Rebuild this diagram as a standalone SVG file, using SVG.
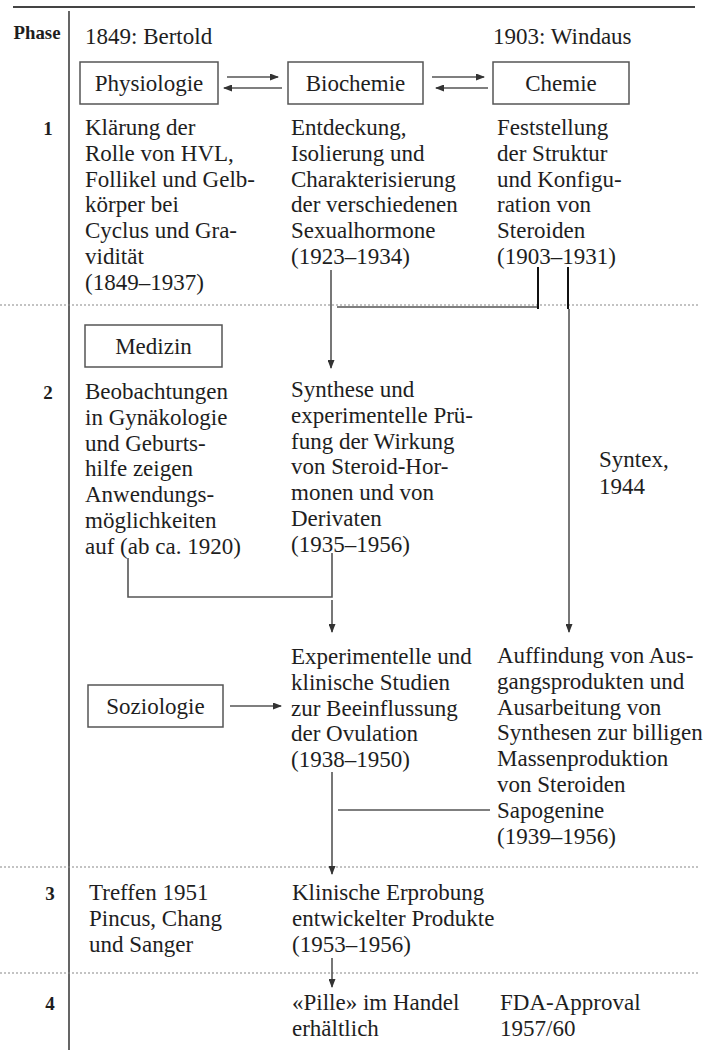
<svg xmlns="http://www.w3.org/2000/svg" width="718" height="1053" viewBox="0 0 718 1053">
<style>
.t{font-family:"Liberation Serif","Times New Roman",serif;font-size:23px;fill:#1e1e1e}
.c{text-anchor:middle}
.ph{font-family:"Liberation Serif","Times New Roman",serif;font-weight:bold;font-size:19px;fill:#1e1e1e;text-anchor:middle}
.box{fill:none;stroke:#555;stroke-width:1.5}
.ln{stroke:#555;stroke-width:1.6;fill:none}
.dk{stroke:#111;stroke-width:2;fill:none}
.dot{stroke:#888;stroke-width:1.2;stroke-dasharray:2 2;fill:none}
</style>
<defs>
<marker id="ah" markerWidth="9" markerHeight="7" refX="8" refY="3.5" orient="auto" markerUnits="userSpaceOnUse"><path d="M0,0 L9,3.5 L0,7 z" fill="#333"/></marker>
</defs>
<rect width="718" height="1053" fill="#fff"/>

<g id="frame">
<line x1="13" y1="7" x2="695" y2="7" stroke="#444" stroke-width="2"/>
<line x1="69" y1="11" x2="69" y2="1050" stroke="#555" stroke-width="1.8"/>
<line class="dot" x1="0" y1="305" x2="700" y2="305"/>
<line class="dot" x1="0" y1="867" x2="700" y2="867"/>
<line class="dot" x1="0" y1="973" x2="700" y2="973"/>
<text x="37" y="39" class="ph" font-size="15" textLength="47" lengthAdjust="spacingAndGlyphs">Phase</text>
<text x="48" y="135" class="ph">1</text>
<text x="48" y="399" class="ph">2</text>
<text x="50" y="900" class="ph">3</text>
<text x="50" y="1010" class="ph">4</text>
</g>

<g id="headers">
<text x="85" y="44" class="t">1849: Bertold</text>
<text x="493" y="44" class="t">1903: Windaus</text>
</g>

<g id="physiologie">
<rect class="box" x="80" y="62" width="138" height="42"/>
<text x="149" y="90.5" class="t c">Physiologie</text>
</g>
<g id="biochemie">
<rect class="box" x="288" y="62" width="135" height="42"/>
<text x="355.5" y="90.5" class="t c">Biochemie</text>
</g>
<g id="chemie">
<rect class="box" x="493" y="62" width="136" height="42"/>
<text x="561" y="90.5" class="t c">Chemie</text>
</g>

<g id="klaerung" class="t">
<text x="85" y="135">Klärung der</text>
<text x="85" y="160.8">Rolle von HVL,</text>
<text x="85" y="186.6">Follikel und Gelb-</text>
<text x="85" y="212.4">körper bei</text>
<text x="85" y="238.2">Cyclus und Gra-</text>
<text x="85" y="264">vidität</text>
<text x="85" y="289.8">(1849–1937)</text>
</g>
<g id="entdeckung" class="t">
<text x="291" y="135">Entdeckung,</text>
<text x="291" y="160.8">Isolierung und</text>
<text x="291" y="186.6">Charakterisierung</text>
<text x="291" y="212.4">der verschiedenen</text>
<text x="291" y="238.2">Sexualhormone</text>
<text x="291" y="264">(1923–1934)</text>
</g>
<g id="feststellung" class="t">
<text x="497" y="135">Feststellung</text>
<text x="497" y="160.8">der Struktur</text>
<text x="497" y="186.6">und Konfigu-</text>
<text x="497" y="212.4">ration von</text>
<text x="497" y="238.2">Steroiden</text>
<text x="497" y="264">(1903–1931)</text>
</g>

<g id="medizin">
<rect class="box" x="85" y="325" width="137" height="42"/>
<text x="153.5" y="353.5" class="t c">Medizin</text>
</g>
<g id="beobachtungen" class="t">
<text x="85" y="399">Beobachtungen</text>
<text x="85" y="424.8">in Gynäkologie</text>
<text x="85" y="450.6">und Geburts-</text>
<text x="85" y="476.4">hilfe zeigen</text>
<text x="85" y="502.2">Anwendungs-</text>
<text x="85" y="528">möglichkeiten</text>
<text x="85" y="553.8">auf (ab ca. 1920)</text>
</g>
<g id="synthese" class="t">
<text x="291" y="397">Synthese und</text>
<text x="291" y="422.8">experimentelle Prü-</text>
<text x="291" y="448.6">fung der Wirkung</text>
<text x="291" y="474.4">von Steroid-Hor-</text>
<text x="291" y="500.2">monen und von</text>
<text x="291" y="526">Derivaten</text>
<text x="291" y="551.8">(1935–1956)</text>
</g>
<g id="syntex" class="t">
<text x="599" y="467">Syntex,</text>
<text x="599" y="494">1944</text>
</g>

<g id="soziologie">
<rect class="box" x="88" y="685" width="135" height="42"/>
<text x="155.5" y="714" class="t c">Soziologie</text>
</g>
<g id="studien" class="t">
<text x="291" y="664">Experimentelle und</text>
<text x="291" y="689.8">klinische Studien</text>
<text x="291" y="715.6">zur Beeinflussung</text>
<text x="291" y="741.4">der Ovulation</text>
<text x="291" y="767.2">(1938–1950)</text>
</g>
<g id="auffindung" class="t">
<text x="497" y="663">Auffindung von Aus-</text>
<text x="497" y="688.8">gangsprodukten und</text>
<text x="497" y="714.6">Ausarbeitung von</text>
<text x="497" y="740.4">Synthesen zur billigen</text>
<text x="497" y="766.2">Massenproduktion</text>
<text x="497" y="792">von Steroiden</text>
<text x="497" y="817.8">Sapogenine</text>
<text x="497" y="843.6">(1939–1956)</text>
</g>

<g id="treffen" class="t">
<text x="89" y="900">Treffen 1951</text>
<text x="89" y="926">Pincus, Chang</text>
<text x="89" y="952">und Sanger</text>
</g>
<g id="erprobung" class="t">
<text x="292" y="900">Klinische Erprobung</text>
<text x="292" y="926">entwickelter Produkte</text>
<text x="292" y="952">(1953–1956)</text>
</g>
<g id="pille" class="t">
<text x="292" y="1010">«Pille» im Handel</text>
<text x="292" y="1036">erhältlich</text>
</g>
<g id="fda" class="t">
<text x="500" y="1010">FDA-Approval</text>
<text x="500" y="1036">1957/60</text>
</g>

<g id="connectors">
<line class="ln" x1="227" y1="77" x2="278" y2="77" marker-end="url(#ah)"/>
<line class="ln" x1="282" y1="88" x2="224" y2="88" marker-end="url(#ah)"/>
<line class="ln" x1="432" y1="77" x2="484" y2="77" marker-end="url(#ah)"/>
<line class="ln" x1="488" y1="88" x2="436" y2="88" marker-end="url(#ah)"/>
<line class="ln" x1="331" y1="270" x2="331" y2="368" marker-end="url(#ah)"/>
<line class="ln" x1="337" y1="307" x2="538" y2="307"/>
<line class="dk" x1="538" y1="267" x2="538" y2="309"/>
<line class="dk" x1="568" y1="267" x2="568" y2="309" stroke-width="1.5"/>
<line class="ln" x1="569" y1="309" x2="569" y2="632" marker-end="url(#ah)"/>
<polyline class="ln" points="128,558 128,597 332,597 332,553"/>
<line class="ln" x1="332" y1="600" x2="332" y2="632" marker-end="url(#ah)"/>
<line class="ln" x1="230" y1="706" x2="281" y2="706" marker-end="url(#ah)"/>
<line class="ln" x1="332" y1="772" x2="332" y2="874" marker-end="url(#ah)"/>
<line class="ln" x1="338" y1="810" x2="490" y2="810"/>
<line class="ln" x1="332" y1="958" x2="332" y2="987" marker-end="url(#ah)"/>
</g>
</svg>
